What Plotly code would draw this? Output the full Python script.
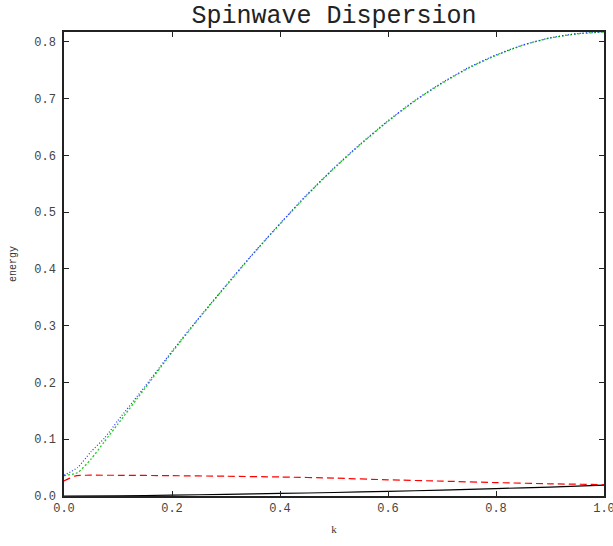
import plotly.graph_objects as go

# Upper branch (blue dotted)
k_blue = [0.0, 0.025, 0.05, 0.075, 0.1, 0.15, 0.2, 0.25, 0.3, 0.35, 0.4, 0.45, 0.5,
          0.55, 0.6, 0.65, 0.7, 0.75, 0.8, 0.85, 0.9, 0.95, 1.0]
e_blue = [0.0365, 0.050, 0.078, 0.102, 0.133, 0.193, 0.255, 0.314, 0.371, 0.427, 0.480, 0.531, 0.578,
          0.621, 0.661, 0.697, 0.728, 0.755, 0.777, 0.7945, 0.807, 0.8145, 0.8173]

# Upper branch (green dotted)
k_green = [0.0, 0.025, 0.05, 0.075, 0.1, 0.15, 0.2, 0.25, 0.3, 0.35, 0.4, 0.45, 0.5,
           0.55, 0.6, 0.65, 0.7, 0.75, 0.8, 0.85, 0.9, 0.95, 1.0]
e_green = [0.036, 0.041, 0.065, 0.096, 0.127, 0.190, 0.253, 0.313, 0.370, 0.426, 0.479, 0.530, 0.577,
           0.620, 0.660, 0.696, 0.727, 0.754, 0.776, 0.794, 0.8065, 0.814, 0.8172]

# Lower branch (red dashed)
k_red = [0.0, 0.01, 0.02, 0.03, 0.05, 0.1, 0.2, 0.3, 0.4, 0.5, 0.6, 0.7, 0.8, 0.9, 1.0]
e_red = [0.0265, 0.031, 0.035, 0.0363, 0.0366, 0.0365, 0.0358, 0.0348, 0.0335, 0.0315,
         0.0285, 0.0262, 0.0236, 0.0215, 0.0200]

# Lower branch (black solid)
k_black = [0.0, 0.1, 0.2, 0.3, 0.4, 0.5, 0.6, 0.7, 0.8, 0.9, 1.0]
e_black = [0.0, 0.0004, 0.0015, 0.003, 0.0045, 0.0062, 0.0082, 0.0104, 0.013, 0.0158, 0.019]

x_ticks = [0.0, 0.2, 0.4, 0.6, 0.8, 1.0]
y_ticks = [0.0, 0.1, 0.2, 0.3, 0.4, 0.5, 0.6, 0.7, 0.8]

mono = "Liberation Mono, DejaVu Sans Mono, monospace"
serif = "Liberation Serif, DejaVu Serif, serif"

fig = go.Figure()
fig.add_trace(go.Scatter(x=k_black, y=e_black, mode="lines",
                         line=dict(color="black", width=1.2, shape="spline", smoothing=0.6),
                         showlegend=False, hoverinfo="skip"))
fig.add_trace(go.Scatter(x=k_red, y=e_red, mode="lines",
                         line=dict(color="red", width=1.2, dash="7px,4px", shape="spline", smoothing=0.6),
                         showlegend=False, hoverinfo="skip"))
fig.add_trace(go.Scatter(x=k_green, y=e_green, mode="lines",
                         line=dict(color="#22cc22", width=1.3, dash="2px,2px", shape="spline", smoothing=0.6),
                         showlegend=False, hoverinfo="skip"))
fig.add_trace(go.Scatter(x=k_blue, y=e_blue, mode="lines",
                         line=dict(color="#2233ff", width=1.2, dash="1px,2px", shape="spline", smoothing=0.6),
                         showlegend=False, hoverinfo="skip"))

fig.update_layout(
    width=613, height=546,
    margin=dict(l=64, r=9, t=32, b=50, autoexpand=False),
    paper_bgcolor="white", plot_bgcolor="white",
    title=dict(text="Spinwave Dispersion", x=0.5, xref="paper", y=1 - 14 / 546, yref="container",
               xanchor="center", yanchor="middle",
               font=dict(family=mono, size=25, color="#222")),
    xaxis=dict(range=[0, 1.0], tickvals=x_ticks, tickformat=".1f", ticks="inside", ticklen=5,
               tickcolor="#222", showline=True, linecolor="#222", linewidth=1.5, mirror="ticks",
               showgrid=False, zeroline=False, automargin=False, ticklabeloverflow="allow",
               tickfont=dict(family=mono, size=12, color="#444"),
               title=dict(text="k", font=dict(family=serif, size=11, color="#333"), standoff=10)),
    yaxis=dict(range=[0, 0.8173], tickvals=y_ticks, tickformat=".1f", ticks="inside", ticklen=5,
               tickcolor="#222", showline=True, linecolor="#222", linewidth=1.5, mirror="ticks",
               showgrid=False, zeroline=False, ticklabelstandoff=4, automargin=False,
               ticklabeloverflow="allow",
               tickfont=dict(family=mono, size=12, color="#444"),
               title=dict(text="energy", font=dict(family=mono, size=10, color="#333"), standoff=16)),
)

fig.write_html("out.html", config={"displayModeBar": False},
               post_script="document.body.style.margin='0';")
